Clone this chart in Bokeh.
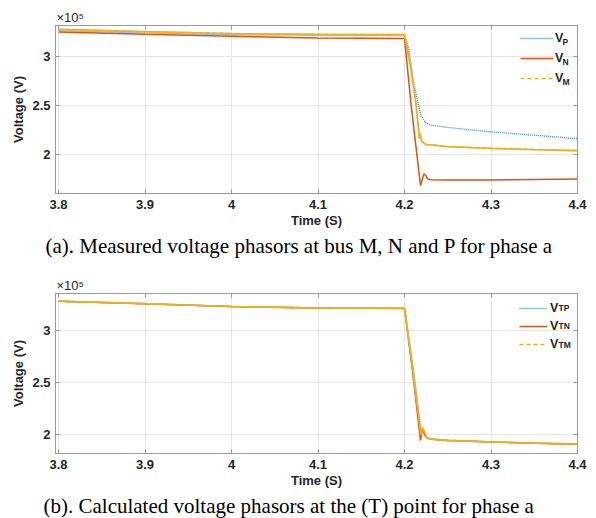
from bokeh.plotting import figure
from bokeh.models import (Range1d, FixedTicker, CustomJSTickFormatter, LinearAxis,
                          Title, Legend, LegendItem, Label)
from bokeh.layouts import column
from bokeh.embed import file_html
from bokeh.resources import INLINE

# ---------------- data (time in s, voltage in units of 1e5 V) ----------------
x_ticks = [3.8, 3.9, 4.0, 4.1, 4.2, 4.3, 4.4]
y_ticks = [2.0, 2.5, 3.0]

# (a) measured phasors
ta_p = [3.8, 3.9, 4.0, 4.1, 4.2, 4.202, 4.205, 4.208, 4.2105, 4.215, 4.2193,
        4.222, 4.225, 4.23, 4.25, 4.3, 4.35, 4.4]
va_p = [3.270, 3.247, 3.227, 3.222, 3.220, 3.17, 3.08, 2.90, 2.74, 2.55, 2.39,
        2.36, 2.32, 2.30, 2.275, 2.23, 2.195, 2.16]

ta_n = [3.8, 3.9, 4.0, 4.1, 4.2, 4.2077, 4.2185, 4.2205, 4.2225, 4.2245, 4.227,
        4.23, 4.25, 4.3, 4.35, 4.4]
va_n = [3.256, 3.232, 3.212, 3.195, 3.190, 2.50, 1.677, 1.74, 1.80, 1.78, 1.745,
        1.738, 1.735, 1.736, 1.740, 1.745]

ta_m = [3.8, 3.9, 4.0, 4.1, 4.2, 4.207, 4.2135, 4.2165, 4.2175, 4.2182, 4.2195,
        4.222, 4.225, 4.23, 4.25, 4.3, 4.35, 4.4]
va_m = [3.283, 3.260, 3.240, 3.232, 3.229, 2.90, 2.50, 2.23, 2.16, 2.21, 2.14,
        2.115, 2.10, 2.095, 2.078, 2.06, 2.048, 2.037]

# (b) calculated phasors at point T
tb_p = [3.8, 3.9, 4.0, 4.1, 4.2, 4.21, 4.2195, 4.2212, 4.2235, 4.226, 4.229,
        4.233, 4.25, 4.3, 4.35, 4.4]
vb_p = [3.283, 3.259, 3.232, 3.218, 3.215, 2.65, 2.02, 2.06, 2.00, 1.97, 1.962,
        1.956, 1.946, 1.931, 1.919, 1.911]

tb_n = [3.8, 3.9, 4.0, 4.1, 4.2, 4.209, 4.2185, 4.2205, 4.222, 4.2245, 4.228,
        4.232, 4.25, 4.3, 4.35, 4.4]
vb_n = [3.283, 3.259, 3.232, 3.218, 3.215, 2.63, 1.946, 2.05, 2.03, 1.98, 1.965,
        1.956, 1.945, 1.930, 1.918, 1.910]

tb_m = [3.8, 3.9, 4.0, 4.1, 4.2, 4.2095, 4.219, 4.2208, 4.2225, 4.2255, 4.228,
        4.232, 4.25, 4.3, 4.35, 4.4]
vb_m = [3.284, 3.260, 3.233, 3.219, 3.216, 2.63, 2.00, 2.07, 2.04, 1.975, 1.965,
        1.958, 1.947, 1.932, 1.920, 1.912]

subs_a = ["P", "N", "M"]
subs_b = ["TP", "TN", "TM"]
caption_a = "(a). Measured voltage phasors at bus M, N and P for phase a"
caption_b = "(b). Calculated voltage phasors at the (T) point for phase a"

# ---------------- styling ----------------
BLUE, RED, YEL = "#2f86cc", "#D95319", "#EDB120"
SANS, SERIF = "Liberation Sans", "Liberation Serif"
GRAY = "#9a9a9a"
TXT = "#262626"
FMT = "return String(Math.round(tick*10)/10)"


def panel(height, btop, yr, series, subs, caption, cap_off, frame_h, leg):
    p = figure(width=596, height=height, output_backend="svg", toolbar_location=None,
               x_range=Range1d(3.7965, 4.4), y_range=Range1d(*yr),
               min_border_left=55, min_border_right=19,
               min_border_top=btop, min_border_bottom=height - btop - frame_h,
               x_axis_label="Time (S)", y_axis_label="Voltage (V)", title="×10⁵")
    p.background_fill_color = "white"
    p.border_fill_color = "white"
    p.outline_line_color = GRAY
    p.title.text_font = SANS
    p.title.text_font_size = "13px"
    p.title.text_font_style = "normal"
    p.title.text_color = TXT
    p.title.align = "left"
    p.title.offset = 1
    p.title.standoff = 1

    for ax, tk in ((p.xaxis, x_ticks), (p.yaxis, y_ticks)):
        ax.ticker = FixedTicker(ticks=tk)
        ax.formatter = CustomJSTickFormatter(code=FMT)
        ax.major_tick_in = 4
        ax.major_tick_out = 0
        ax.minor_tick_line_color = None
        ax.axis_line_color = GRAY
        ax.major_tick_line_color = GRAY
        ax.major_label_text_font = SANS
        ax.major_label_text_font_style = "bold"
        ax.major_label_text_font_size = "13px"
        ax.major_label_text_color = TXT
        ax.axis_label_text_font = SANS
        ax.axis_label_text_font_style = "bold"
        ax.axis_label_text_font_size = "13px"
        ax.axis_label_text_color = TXT
    p.xaxis.major_label_standoff = 6
    p.xaxis.axis_label_standoff = 1
    p.yaxis.major_label_standoff = 5
    p.yaxis.axis_label_standoff = 3
    p.xgrid.ticker = FixedTicker(ticks=x_ticks)
    p.ygrid.ticker = FixedTicker(ticks=y_ticks)
    p.grid.grid_line_color = "#e6e6e6"

    # inner ticks on the right and top edges (labels not drawn)
    for side, tk in (("right", y_ticks), ("above", x_ticks)):
        ax = LinearAxis(ticker=FixedTicker(ticks=tk), major_label_text_font_size="1px",
                        major_label_text_color=None, major_label_standoff=0,
                        major_tick_in=4, major_tick_out=0,
                        minor_tick_line_color=None, axis_line_color=GRAY,
                        major_tick_line_color=GRAY)
        p.add_layout(ax, side)

    (tp, vp), (tn, vn), (tm, vm) = series
    rp = p.line(tp, vp, line_color=BLUE, line_width=1.3, line_dash="1 1")
    rn = p.line(tn, vn, line_color=RED, line_width=1.5)
    rm_dash = p.line(tm, vm, line_color=YEL, line_width=1.5, line_dash="4 3")
    p.line(tm, vm, line_color=YEL, line_width=1.7)

    vx, gw, ls, gh, vy, sub_x, sub_y = leg
    items = [LegendItem(label="V", renderers=[r]) for r in (rp, rn, rm_dash)]
    legend = Legend(items=items, location=(vx, vy), padding=3, spacing=0,
                    margin=0, glyph_width=gw, glyph_height=gh, label_height=gh,
                    label_width=0, label_standoff=ls, border_line_color=None,
                    background_fill_alpha=0.0,
                    label_text_font=SANS, label_text_font_style="bold",
                    label_text_font_size="12.5px", label_text_color=TXT)
    p.add_layout(legend)
    for s, yy in zip(subs, sub_y):
        p.add_layout(Label(x=sub_x, y=yy, x_units="screen", y_units="screen",
                           text=s, text_font=SANS, text_font_style="bold",
                           text_font_size="8.5px", text_color=TXT,
                           text_baseline="top"))

    p.add_layout(Title(text=caption, align="left", offset=cap_off, standoff=2,
                       text_font=SERIF, text_font_style="normal",
                       text_font_size="21px", text_color="black"), "below")
    return p


p1 = panel(258, 25, (1.596, 3.323), [(ta_p, va_p), (ta_n, va_n), (ta_m, va_m)],
           subs_a, caption_a, -10, 171,
           (465, 33, 2, 20, 105, 507, [156.5, 136.5, 116.5]))
p2 = panel(260, 35, (1.82, 3.358), [(tb_p, vb_p), (tb_n, vb_n), (tb_m, vb_m)],
           subs_b, caption_b, -12, 163,
           (464, 28, 3, 18, 100, 503, [151, 132.5, 114]))

layout = column(p1, p2, spacing=0)
open("out.html", "w").write(file_html(layout, INLINE))
